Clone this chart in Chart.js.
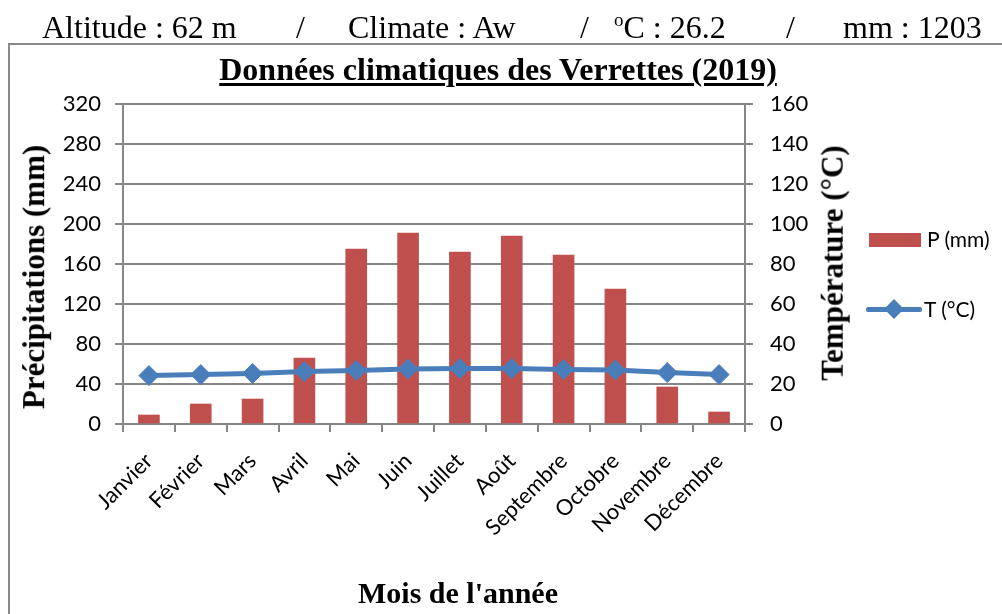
<!DOCTYPE html>
<html>
<head>
<meta charset="utf-8">
<script src="https://cdn.jsdelivr.net/npm/chart.js@4.4.1/dist/chart.umd.min.js"></script>
<style>
  html, body { margin:0; padding:0; background:#fff; }
  #wrap { position:relative; width:1002px; height:614px; overflow:hidden; background:#fff; }
  #frame { position:absolute; left:8px; top:43px; width:1010px; height:600px; border:2px solid #888; box-sizing:border-box; }
  canvas { position:absolute; left:0; top:0; }
  .hdr { position:absolute; top:9px; font-family:"Liberation Serif", "Times New Roman", serif; font-size:32px; color:#000; white-space:nowrap; line-height:36px; }
  #title { position:absolute; left:0; width:996px; top:51px; text-align:center; font-family:"Liberation Serif", serif; font-weight:bold; font-size:32px; text-decoration:underline; text-decoration-thickness:3px; text-underline-offset:3px; line-height:36px; white-space:nowrap; }
  .ytitle { position:absolute; font-family:"Liberation Serif", serif; font-weight:bold; font-size:31px; white-space:nowrap; line-height:34px; transform-origin:center center; }
  #xtitle { position:absolute; left:158px; width:600px; top:578px; text-align:center; font-family:"Liberation Serif", serif; font-weight:bold; font-size:30px; line-height:30px; white-space:nowrap; }
  .leg { position:absolute; font-family:Lato, "Noto Sans", sans-serif; font-size:21px; color:#000; white-space:nowrap; line-height:24px; }
</style>
</head>
<body>
<div id="wrap">
  <div id="frame"></div>
  <canvas id="c" width="1002" height="614"></canvas>
  <span class="hdr" style="left:42px">Altitude : 62 m</span>
  <span class="hdr" style="left:296px">/</span>
  <span class="hdr" style="left:348px">Climate : Aw</span>
  <span class="hdr" style="left:580px">/</span>
  <span class="hdr" style="left:614px"><span style="font-size:19px;position:relative;top:-12px">o</span>C : 26.2</span>
  <span class="hdr" style="left:786px">/</span>
  <span class="hdr" style="left:843px">mm : 1203</span>
  <div id="title">Données climatiques des Verrettes (2019)</div>
  <div id="ltitle" class="ytitle">Précipitations (mm)</div>
  <div id="rtitle" class="ytitle">Température (°C)</div>
  <div id="xtitle">Mois de l'année</div>
  <div id="legend"></div>
</div>
<script>
const categories = ['Janvier','Février','Mars','Avril','Mai','Juin','Juillet','Août','Septembre','Octobre','Novembre','Décembre'];
const precipitation = [9, 20, 25, 66, 175, 191, 172, 188, 169, 135, 37, 12];
const temperature = [24.2, 24.7, 25.3, 26.2, 26.8, 27.5, 27.7, 27.7, 27.3, 27.0, 25.7, 24.7];
const precipLabel = 'P (mm)';
const tempLabel = 'T (°C)';

const RED = '#c0504d', BLUE = '#4a7ebb', GRID = '#868686';
const FONT = 'Lato, "Noto Sans", sans-serif';

function placeRotated(el, cx, cy) {
  const w = el.offsetWidth, h = el.offsetHeight;
  el.style.left = (cx - w/2) + 'px';
  el.style.top = (cy - h/2) + 'px';
  el.style.transform = 'rotate(-90deg)';
}
placeRotated(document.getElementById('ltitle'), 34, 277);
placeRotated(document.getElementById('rtitle'), 832, 263);

const chart = new Chart(document.getElementById('c'), {
  data: {
    labels: categories,
    datasets: [
      { type:'line', label: tempLabel, data: temperature, yAxisID:'y1', order:0,
        borderColor: BLUE, backgroundColor: BLUE, borderWidth: 5, tension: 0,
        pointStyle:'rectRot', pointRadius: 10, pointBackgroundColor: BLUE, pointBorderColor: BLUE, pointBorderWidth:1 },
      { type:'bar', label: precipLabel, data: precipitation, yAxisID:'y', order:1,
        backgroundColor: RED, borderWidth:0, barThickness: 21 }
    ]
  },
  options: {
    responsive:false, animation:false, devicePixelRatio:1,
    layout: { padding: { left:0, right:0, top:104, bottom:0 } },
    plugins: { legend:{display:false}, tooltip:{enabled:false}, title:{display:false} },
    scales: {
      x: {
        type:'category', offset:true,
        grid: { display:true, drawOnChartArea:false, drawTicks:true, tickLength:8, color:GRID, lineWidth:2, offset:true },
        border: { display:true, color:GRID, width:2 },
        ticks: { font: { family: FONT, size: 22 }, color:'#000', minRotation:45, maxRotation:45, autoSkip:false, padding:16 },
        afterFit: s => { s.height = 190; }
      },
      y: {
        position:'left', min:0, max:320,
        ticks: { stepSize:40, font: { family: FONT, size: 22 }, color:'#000', padding:14 },
        grid: { color:GRID, lineWidth:2, tickLength:8, drawTicks:true },
        border: { display:true, color:GRID, width:2 },
        afterFit: s => { s.width = 123; }
      },
      y1: {
        position:'right', min:0, max:160,
        ticks: { stepSize:20, font: { family: FONT, size: 22 }, color:'#000', padding:17 },
        grid: { drawOnChartArea:false, color:GRID, lineWidth:2, tickLength:8, drawTicks:true },
        border: { display:true, color:GRID, width:2 },
        afterFit: s => { s.width = 257; }
      }
    }
  }
});

// Legend built from the dataset definitions
const lg = document.getElementById('legend');
chart.data.datasets.forEach(ds => {
  if (ds.type === 'bar') {
    const box = document.createElement('div');
    box.style.cssText = 'position:absolute;left:869px;top:233px;width:52px;height:14px;background:'+ds.backgroundColor;
    lg.appendChild(box);
    const t = document.createElement('span'); t.className='leg'; t.textContent = ds.label;
    t.style.left='927px'; t.style.top='227px'; lg.appendChild(t);
  } else {
    const line = document.createElement('div');
    line.style.cssText = 'position:absolute;left:866px;top:307px;width:56px;height:5px;border-radius:2px;background:'+ds.borderColor;
    lg.appendChild(line);
    const d = document.createElement('div');
    d.style.cssText = 'position:absolute;left:887px;top:302px;width:14px;height:14px;transform:rotate(45deg);background:'+ds.borderColor;
    lg.appendChild(d);
    const t = document.createElement('span'); t.className='leg'; t.textContent = ds.label;
    t.style.left='924px'; t.style.top='297px'; lg.appendChild(t);
  }
});
</script>
</body>
</html>
